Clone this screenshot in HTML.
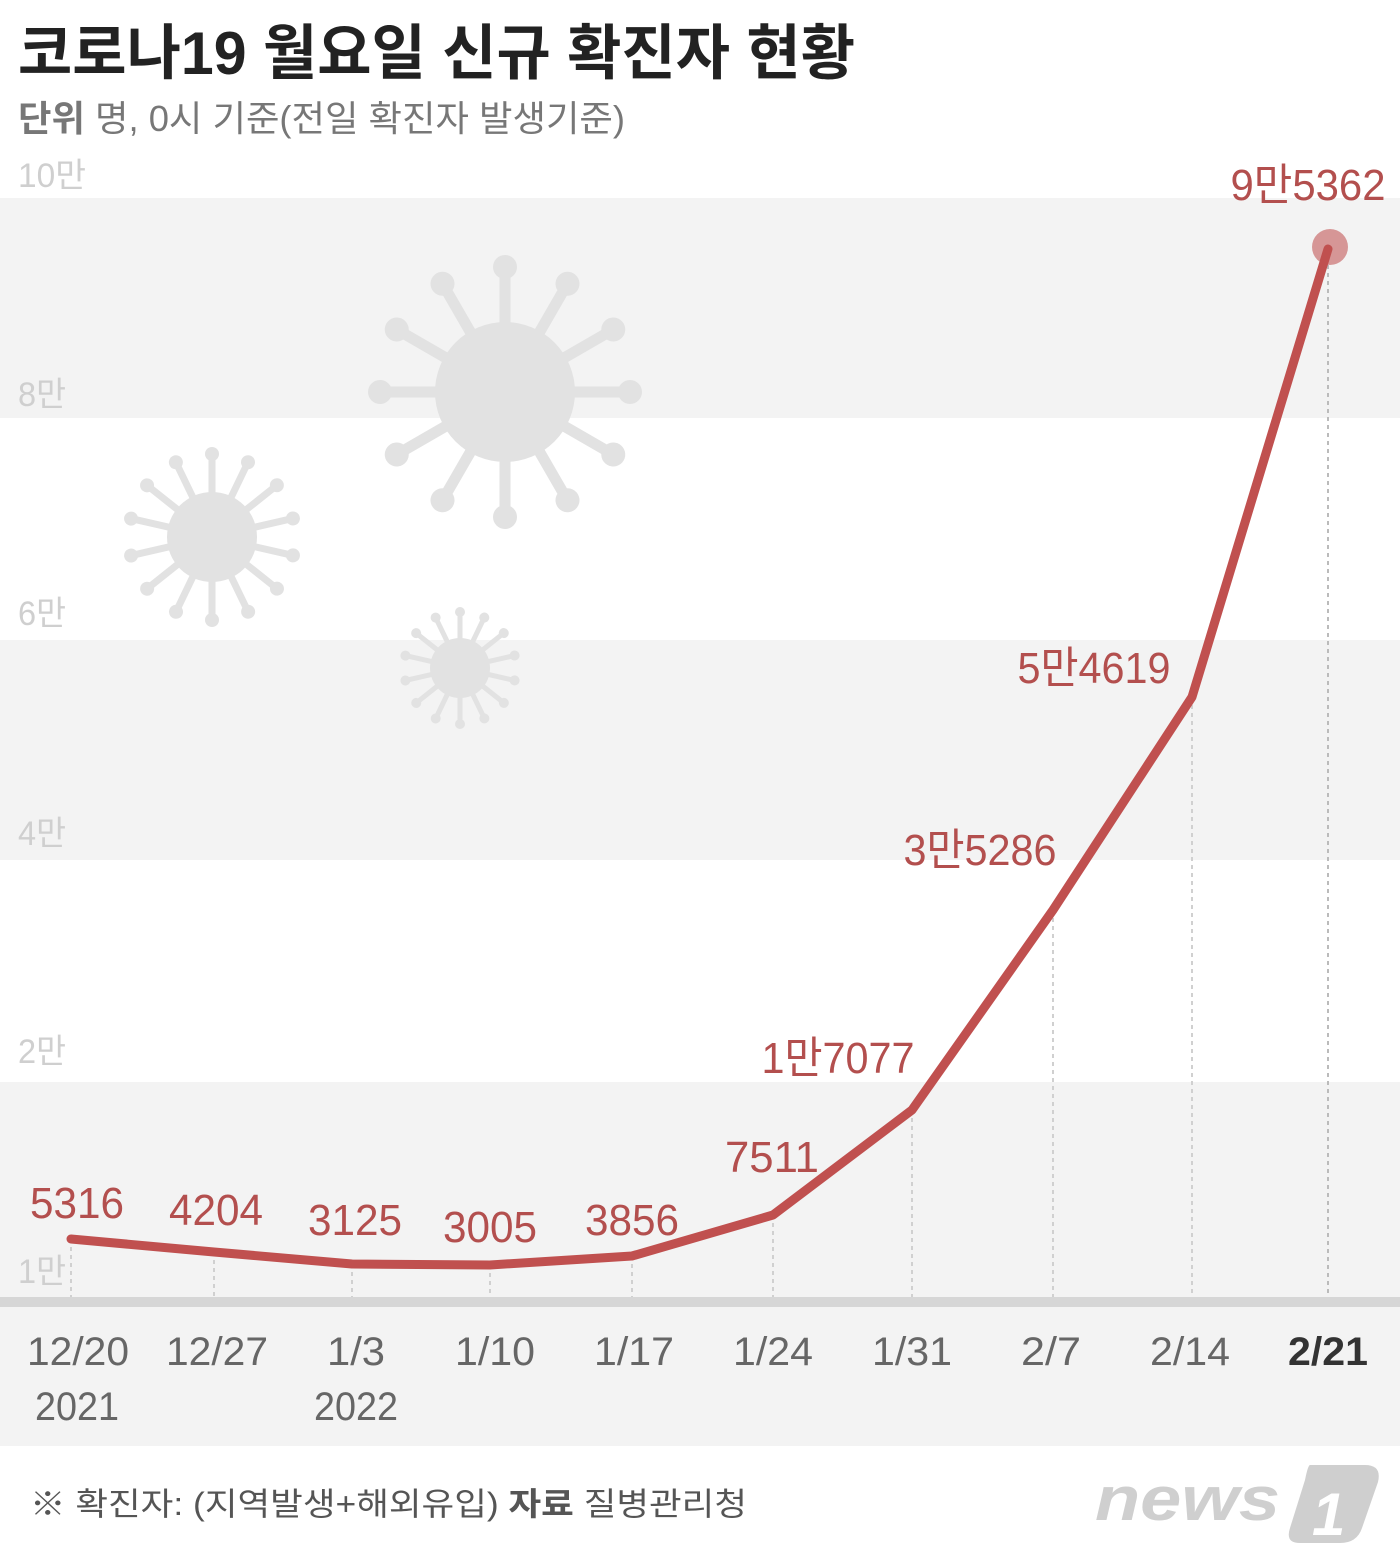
<!DOCTYPE html>
<html><head><meta charset="utf-8"><style>
html,body{margin:0;padding:0;background:#fff;}
svg{display:block;}
text{font-family:"Liberation Sans","Noto Sans CJK KR",sans-serif;}
</style></head><body>
<svg width="1400" height="1567" viewBox="0 0 1400 1567" xmlns="http://www.w3.org/2000/svg">
<defs>
<g id="sp"><line x1="0" y1="0" x2="0" y2="-1" stroke="#e2e2e2"/></g>
</defs>
<rect x="0" y="198" width="1400" height="220" fill="#f3f3f3"/>
<rect x="0" y="640" width="1400" height="220" fill="#f3f3f3"/>
<rect x="0" y="1082" width="1400" height="216" fill="#f3f3f3"/>
<rect x="0" y="1306" width="1400" height="140" fill="#f3f3f3"/>
<rect x="0" y="1297" width="1400" height="10" fill="#d6d6d6"/>

<!-- viruses -->
<g fill="#e2e2e2" stroke="#e2e2e2">
 <g transform="translate(505,392)">
  <circle r="70" stroke="none"/>
  <g stroke-width="11" stroke-linecap="round">
   <line x1="0" y1="0" x2="0" y2="-118" transform="rotate(0)"/><circle cx="0" cy="-125" r="12" stroke="none" transform="rotate(0)"/>
   <line x1="0" y1="0" x2="0" y2="-118" transform="rotate(30)"/><circle cx="0" cy="-125" r="12" stroke="none" transform="rotate(30)"/>
   <line x1="0" y1="0" x2="0" y2="-118" transform="rotate(60)"/><circle cx="0" cy="-125" r="12" stroke="none" transform="rotate(60)"/>
   <line x1="0" y1="0" x2="0" y2="-118" transform="rotate(90)"/><circle cx="0" cy="-125" r="12" stroke="none" transform="rotate(90)"/>
   <line x1="0" y1="0" x2="0" y2="-118" transform="rotate(120)"/><circle cx="0" cy="-125" r="12" stroke="none" transform="rotate(120)"/>
   <line x1="0" y1="0" x2="0" y2="-118" transform="rotate(150)"/><circle cx="0" cy="-125" r="12" stroke="none" transform="rotate(150)"/>
   <line x1="0" y1="0" x2="0" y2="-118" transform="rotate(180)"/><circle cx="0" cy="-125" r="12" stroke="none" transform="rotate(180)"/>
   <line x1="0" y1="0" x2="0" y2="-118" transform="rotate(210)"/><circle cx="0" cy="-125" r="12" stroke="none" transform="rotate(210)"/>
   <line x1="0" y1="0" x2="0" y2="-118" transform="rotate(240)"/><circle cx="0" cy="-125" r="12" stroke="none" transform="rotate(240)"/>
   <line x1="0" y1="0" x2="0" y2="-118" transform="rotate(270)"/><circle cx="0" cy="-125" r="12" stroke="none" transform="rotate(270)"/>
   <line x1="0" y1="0" x2="0" y2="-118" transform="rotate(300)"/><circle cx="0" cy="-125" r="12" stroke="none" transform="rotate(300)"/>
   <line x1="0" y1="0" x2="0" y2="-118" transform="rotate(330)"/><circle cx="0" cy="-125" r="12" stroke="none" transform="rotate(330)"/>
  </g>
 </g>
 <g transform="translate(212,537)">
  <circle r="45" stroke="none"/>
  <g stroke-width="7" stroke-linecap="round">
   <line x1="0" y1="0" x2="0" y2="-78" transform="rotate(0)"/><circle cx="0" cy="-83" r="7" stroke="none" transform="rotate(0)"/>
   <line x1="0" y1="0" x2="0" y2="-78" transform="rotate(25.7)"/><circle cx="0" cy="-83" r="7" stroke="none" transform="rotate(25.7)"/>
   <line x1="0" y1="0" x2="0" y2="-78" transform="rotate(51.4)"/><circle cx="0" cy="-83" r="7" stroke="none" transform="rotate(51.4)"/>
   <line x1="0" y1="0" x2="0" y2="-78" transform="rotate(77.1)"/><circle cx="0" cy="-83" r="7" stroke="none" transform="rotate(77.1)"/>
   <line x1="0" y1="0" x2="0" y2="-78" transform="rotate(102.8)"/><circle cx="0" cy="-83" r="7" stroke="none" transform="rotate(102.8)"/>
   <line x1="0" y1="0" x2="0" y2="-78" transform="rotate(128.5)"/><circle cx="0" cy="-83" r="7" stroke="none" transform="rotate(128.5)"/>
   <line x1="0" y1="0" x2="0" y2="-78" transform="rotate(154.2)"/><circle cx="0" cy="-83" r="7" stroke="none" transform="rotate(154.2)"/>
   <line x1="0" y1="0" x2="0" y2="-78" transform="rotate(180)"/><circle cx="0" cy="-83" r="7" stroke="none" transform="rotate(180)"/>
   <line x1="0" y1="0" x2="0" y2="-78" transform="rotate(205.7)"/><circle cx="0" cy="-83" r="7" stroke="none" transform="rotate(205.7)"/>
   <line x1="0" y1="0" x2="0" y2="-78" transform="rotate(231.4)"/><circle cx="0" cy="-83" r="7" stroke="none" transform="rotate(231.4)"/>
   <line x1="0" y1="0" x2="0" y2="-78" transform="rotate(257.1)"/><circle cx="0" cy="-83" r="7" stroke="none" transform="rotate(257.1)"/>
   <line x1="0" y1="0" x2="0" y2="-78" transform="rotate(282.8)"/><circle cx="0" cy="-83" r="7" stroke="none" transform="rotate(282.8)"/>
   <line x1="0" y1="0" x2="0" y2="-78" transform="rotate(308.5)"/><circle cx="0" cy="-83" r="7" stroke="none" transform="rotate(308.5)"/>
   <line x1="0" y1="0" x2="0" y2="-78" transform="rotate(334.2)"/><circle cx="0" cy="-83" r="7" stroke="none" transform="rotate(334.2)"/>
  </g>
 </g>
 <g transform="translate(460,668)">
  <circle r="30" stroke="none"/>
  <g stroke-width="5" stroke-linecap="round">
   <line x1="0" y1="0" x2="0" y2="-52" transform="rotate(0)"/><circle cx="0" cy="-56" r="5" stroke="none" transform="rotate(0)"/>
   <line x1="0" y1="0" x2="0" y2="-52" transform="rotate(25.7)"/><circle cx="0" cy="-56" r="5" stroke="none" transform="rotate(25.7)"/>
   <line x1="0" y1="0" x2="0" y2="-52" transform="rotate(51.4)"/><circle cx="0" cy="-56" r="5" stroke="none" transform="rotate(51.4)"/>
   <line x1="0" y1="0" x2="0" y2="-52" transform="rotate(77.1)"/><circle cx="0" cy="-56" r="5" stroke="none" transform="rotate(77.1)"/>
   <line x1="0" y1="0" x2="0" y2="-52" transform="rotate(102.8)"/><circle cx="0" cy="-56" r="5" stroke="none" transform="rotate(102.8)"/>
   <line x1="0" y1="0" x2="0" y2="-52" transform="rotate(128.5)"/><circle cx="0" cy="-56" r="5" stroke="none" transform="rotate(128.5)"/>
   <line x1="0" y1="0" x2="0" y2="-52" transform="rotate(154.2)"/><circle cx="0" cy="-56" r="5" stroke="none" transform="rotate(154.2)"/>
   <line x1="0" y1="0" x2="0" y2="-52" transform="rotate(180)"/><circle cx="0" cy="-56" r="5" stroke="none" transform="rotate(180)"/>
   <line x1="0" y1="0" x2="0" y2="-52" transform="rotate(205.7)"/><circle cx="0" cy="-56" r="5" stroke="none" transform="rotate(205.7)"/>
   <line x1="0" y1="0" x2="0" y2="-52" transform="rotate(231.4)"/><circle cx="0" cy="-56" r="5" stroke="none" transform="rotate(231.4)"/>
   <line x1="0" y1="0" x2="0" y2="-52" transform="rotate(257.1)"/><circle cx="0" cy="-56" r="5" stroke="none" transform="rotate(257.1)"/>
   <line x1="0" y1="0" x2="0" y2="-52" transform="rotate(282.8)"/><circle cx="0" cy="-56" r="5" stroke="none" transform="rotate(282.8)"/>
   <line x1="0" y1="0" x2="0" y2="-52" transform="rotate(308.5)"/><circle cx="0" cy="-56" r="5" stroke="none" transform="rotate(308.5)"/>
   <line x1="0" y1="0" x2="0" y2="-52" transform="rotate(334.2)"/><circle cx="0" cy="-56" r="5" stroke="none" transform="rotate(334.2)"/>
  </g>
 </g>
</g>

<!-- title -->
<text x="18" y="74" font-size="60" font-weight="bold" fill="#222" textLength="837" lengthAdjust="spacingAndGlyphs">코로나19 월요일 신규 확진자 현황</text>
<text x="18" y="131" font-size="36" fill="#777" textLength="607" lengthAdjust="spacingAndGlyphs"><tspan font-weight="bold">단위</tspan>  명, 0시 기준(전일 확진자 발생기준)</text>

<!-- y labels -->
<g font-size="34" fill="#cfcfcf">
<text x="18" y="187" textLength="68" lengthAdjust="spacingAndGlyphs">10만</text>
<text x="18" y="406" textLength="48" lengthAdjust="spacingAndGlyphs">8만</text>
<text x="18" y="625" textLength="48" lengthAdjust="spacingAndGlyphs">6만</text>
<text x="18" y="845" textLength="48" lengthAdjust="spacingAndGlyphs">4만</text>
<text x="18" y="1063" textLength="48" lengthAdjust="spacingAndGlyphs">2만</text>
<text x="18" y="1283" textLength="48" lengthAdjust="spacingAndGlyphs">1만</text>
</g>

<!-- dotted guides -->
<g stroke="#d0d0d0" stroke-width="2" stroke-dasharray="4,4">
<line x1="71" y1="1239" x2="71" y2="1297"/>
<line x1="214" y1="1252" x2="214" y2="1297"/>
<line x1="352" y1="1264" x2="352" y2="1297"/>
<line x1="490" y1="1265" x2="490" y2="1297"/>
<line x1="632" y1="1256" x2="632" y2="1297"/>
<line x1="773" y1="1215" x2="773" y2="1297"/>
<line x1="912" y1="1110" x2="912" y2="1297"/>
<line x1="1053" y1="910" x2="1053" y2="1297"/>
<line x1="1192" y1="697" x2="1192" y2="1297"/>
<line x1="1328" y1="249" x2="1328" y2="1297" stroke="#bbb"/>
</g>

<!-- line -->
<circle cx="1330" cy="247" r="18" fill="#d38c8c" opacity="0.9"/>
<polyline points="71,1239 214,1252 352,1264 490,1265 632,1256 773,1215 912,1110 1053,910 1192,697 1328,249" fill="none" stroke="#c0504f" stroke-width="9" stroke-linejoin="round" stroke-linecap="round"/>

<!-- value labels -->
<g font-size="44" fill="#b34f4e" text-anchor="middle">
<text x="77" y="1218" textLength="94" lengthAdjust="spacingAndGlyphs">5316</text>
<text x="216" y="1225" textLength="94" lengthAdjust="spacingAndGlyphs">4204</text>
<text x="355" y="1235" textLength="94" lengthAdjust="spacingAndGlyphs">3125</text>
<text x="490" y="1242" textLength="94" lengthAdjust="spacingAndGlyphs">3005</text>
<text x="632" y="1235" textLength="94" lengthAdjust="spacingAndGlyphs">3856</text>
<text x="772" y="1172" textLength="94" lengthAdjust="spacingAndGlyphs">7511</text>
<text x="838" y="1073" textLength="153" lengthAdjust="spacingAndGlyphs">1만7077</text>
<text x="980" y="865" textLength="153" lengthAdjust="spacingAndGlyphs">3만5286</text>
<text x="1094" y="683" textLength="153" lengthAdjust="spacingAndGlyphs">5만4619</text>
<text x="1308" y="200" textLength="155" lengthAdjust="spacingAndGlyphs">9만5362</text>
</g>

<!-- x labels -->
<g font-size="40" fill="#666" text-anchor="middle">
<text x="78" y="1365" textLength="102" lengthAdjust="spacingAndGlyphs">12/20</text>
<text x="217" y="1365" textLength="102" lengthAdjust="spacingAndGlyphs">12/27</text>
<text x="356" y="1365" textLength="58" lengthAdjust="spacingAndGlyphs">1/3</text>
<text x="495" y="1365" textLength="80" lengthAdjust="spacingAndGlyphs">1/10</text>
<text x="634" y="1365" textLength="80" lengthAdjust="spacingAndGlyphs">1/17</text>
<text x="773" y="1365" textLength="80" lengthAdjust="spacingAndGlyphs">1/24</text>
<text x="912" y="1365" textLength="80" lengthAdjust="spacingAndGlyphs">1/31</text>
<text x="1051" y="1365" textLength="60" lengthAdjust="spacingAndGlyphs">2/7</text>
<text x="1190" y="1365" textLength="80" lengthAdjust="spacingAndGlyphs">2/14</text>
<text x="1328" y="1365" textLength="80" lengthAdjust="spacingAndGlyphs" font-weight="bold" fill="#333">2/21</text>
<text x="77" y="1420" textLength="84" lengthAdjust="spacingAndGlyphs">2021</text>
<text x="356" y="1420" textLength="84" lengthAdjust="spacingAndGlyphs">2022</text>
</g>

<!-- footer -->
<text x="30" y="1515" font-size="32" fill="#555" textLength="717" lengthAdjust="spacingAndGlyphs">※ 확진자: (지역발생+해외유입)  <tspan font-weight="bold">자료</tspan>  질병관리청</text>
<g fill="#cfcfcf">
<text x="1095" y="1520" font-size="62" font-weight="bold" font-style="italic" textLength="185" lengthAdjust="spacingAndGlyphs">news</text>
<path d="M1310,1465 L1365,1465 Q1382,1465 1378,1482 L1362,1528 Q1357,1543 1340,1543 L1300,1543 Q1285,1543 1290,1528 L1305,1480 Q1308,1465 1310,1465 Z"/>
</g>
<text x="1312" y="1535" font-size="60" font-weight="bold" font-style="italic" fill="#fff">1</text>
</svg>
</body></html>
